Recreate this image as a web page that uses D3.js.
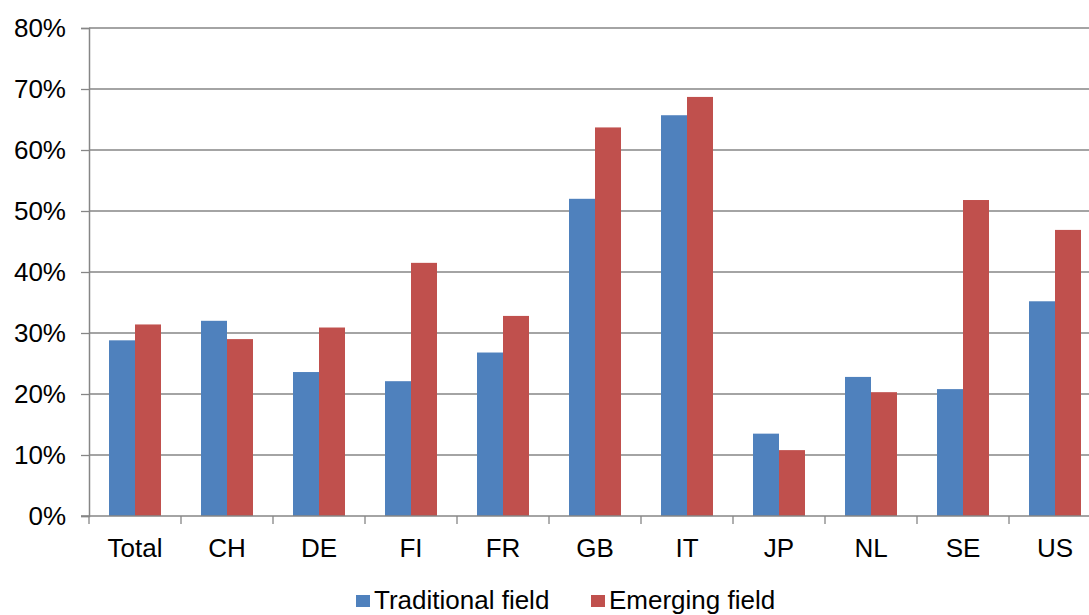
<!DOCTYPE html>
<html>
<head>
<meta charset="utf-8">
<script src="https://cdn.jsdelivr.net/npm/d3@7"></script>
<style>
html,body{margin:0;padding:0;background:#fff;overflow:hidden;}
svg{display:block;font-family:"Liberation Sans",Arial,sans-serif;}
</style>
</head>
<body>
<svg id="chart" width="1089" height="615"></svg>
<script>
const categories = ["Total","CH","DE","FI","FR","GB","IT","JP","NL","SE","US"];
const seriesNames = ["Traditional field","Emerging field"];
const traditional = [28.8, 32.0, 23.6, 22.1, 26.8, 52.0, 65.7, 13.5, 22.8, 20.8, 35.2];
const emerging    = [31.4, 29.0, 30.9, 41.5, 32.8, 63.7, 68.7, 10.8, 20.3, 51.8, 46.9];
const yTicks = [0,10,20,30,40,50,60,70,80];
const colors = ["#4F81BD","#C0504D"];

const svg = d3.select("#chart");
const pLeft = 89, pRight = 1101, pTop = 28, pBottom = 516;
const grey = "#868686";
const fs = 26;

const x = d3.scaleBand().domain(categories).range([pLeft, pRight]).paddingInner(40/92).paddingOuter(20/92);
const xs = d3.scaleBand().domain(seriesNames).range([0, x.bandwidth()]);
const y = d3.scaleLinear().domain([0, 80]).range([pBottom, pTop]);

// gridlines
svg.append("g").selectAll("line").data(yTicks.filter(d => d > 0)).join("line")
  .attr("x1", pLeft).attr("x2", 1089)
  .attr("y1", d => y(d)).attr("y2", d => y(d))
  .attr("stroke", grey).attr("stroke-width", 1.3);

// bars
const data = categories.map((c, i) => ({c, vals: [traditional[i], emerging[i]]}));
const g = svg.append("g").selectAll("g").data(data).join("g")
  .attr("transform", d => `translate(${x(d.c)},0)`);
g.selectAll("rect").data(d => d.vals.map((v, k) => ({v, k}))).join("rect")
  .attr("x", d => xs(seriesNames[d.k]))
  .attr("width", xs.bandwidth())
  .attr("y", d => y(d.v))
  .attr("height", d => y(0) - y(d.v))
  .attr("fill", d => colors[d.k]);

// y axis
const yAxis = d3.axisLeft(y).tickValues(yTicks).tickFormat(d => d + "%").tickSize(8).tickPadding(15);
const ya = svg.append("g").attr("transform", `translate(${pLeft},0)`).call(yAxis);
ya.select(".domain").attr("stroke", grey).attr("stroke-width", 1.5);
ya.selectAll(".tick line").attr("stroke", grey).attr("stroke-width", 1.3);
ya.selectAll(".tick text").attr("font-size", fs).attr("fill", "#000")
  .attr("font-family", "'Liberation Sans', Arial, sans-serif");

// x axis
const xAxis = d3.axisBottom(x).tickSize(0).tickPadding(0);
const xa = svg.append("g").attr("transform", `translate(0,${pBottom})`).call(xAxis);
xa.select(".domain").remove();
xa.append("line").attr("x1", pLeft - 8).attr("x2", 1089).attr("y1", 0).attr("y2", 0)
  .attr("stroke", grey).attr("stroke-width", 1.5);
xa.selectAll(".tick text").attr("font-size", fs).attr("fill", "#000").attr("dy", null)
  .attr("y", 41).attr("font-family", "'Liberation Sans', Arial, sans-serif");
// category boundary ticks
const bounds = categories.map(c => x(c) - x.step() * x.paddingOuter());
xa.selectAll(".bt").data(bounds).join("line").attr("class", "bt")
  .attr("x1", d => d).attr("x2", d => d).attr("y1", 0).attr("y2", 8)
  .attr("stroke", grey).attr("stroke-width", 1.3);

// legend
const legendX = [356, 591];
const lg = svg.append("g").selectAll("g").data(seriesNames).join("g")
  .attr("transform", (d, i) => `translate(${legendX[i]},0)`);
lg.append("rect").attr("x", 0).attr("y", 595).attr("width", 14).attr("height", 12)
  .attr("fill", (d, i) => colors[i]);
lg.append("text").attr("x", 18).attr("y", 609).attr("font-size", fs).attr("fill", "#000")
  .text(d => d);
</script>
</body>
</html>
